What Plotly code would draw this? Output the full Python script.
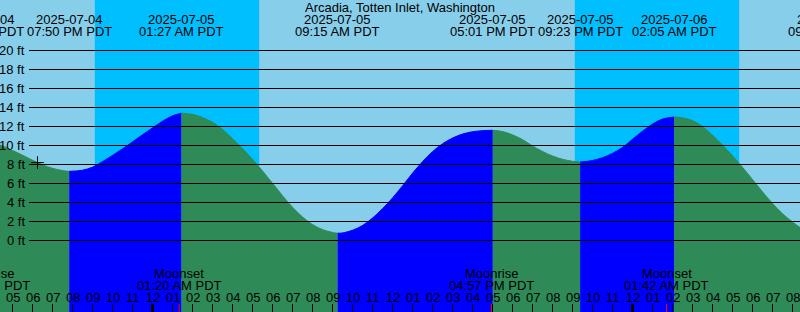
import plotly.graph_objects as go
import pandas as pd

# ---------------- data (times in PDT) ----------------
title_text = "Arcadia, Totten Inlet, Washington"

curve_times = [
    "2025-07-04 16:00", "2025-07-04 16:30", "2025-07-04 17:00", "2025-07-04 17:30",
    "2025-07-04 18:00", "2025-07-04 18:30", "2025-07-04 19:00", "2025-07-04 19:30",
    "2025-07-04 20:30", "2025-07-04 21:00", "2025-07-04 21:30",
    "2025-07-04 22:00", "2025-07-04 22:30", "2025-07-04 23:00", "2025-07-04 23:30",
    "2025-07-05 00:00", "2025-07-05 00:30", "2025-07-05 01:00",
    "2025-07-05 02:00", "2025-07-05 02:30", "2025-07-05 03:00", "2025-07-05 03:30",
    "2025-07-05 04:00", "2025-07-05 04:30", "2025-07-05 05:00", "2025-07-05 05:30",
    "2025-07-05 06:00", "2025-07-05 06:30", "2025-07-05 07:00", "2025-07-05 07:30",
    "2025-07-05 08:00", "2025-07-05 08:30", "2025-07-05 09:00", "2025-07-05 09:30",
    "2025-07-05 10:00", "2025-07-05 10:30", "2025-07-05 11:00", "2025-07-05 11:30",
    "2025-07-05 12:00", "2025-07-05 12:30", "2025-07-05 13:00", "2025-07-05 13:30",
    "2025-07-05 14:00", "2025-07-05 14:30", "2025-07-05 15:00", "2025-07-05 15:30",
    "2025-07-05 16:00", "2025-07-05 16:30", "2025-07-05 17:30", "2025-07-05 18:00",
    "2025-07-05 18:30", "2025-07-05 19:00", "2025-07-05 19:30", "2025-07-05 20:00",
    "2025-07-05 20:30", "2025-07-05 21:00", "2025-07-05 22:00",
    "2025-07-05 22:30", "2025-07-05 23:00", "2025-07-05 23:30", "2025-07-06 00:00",
    "2025-07-06 00:30", "2025-07-06 01:00", "2025-07-06 01:30",
    "2025-07-06 02:30", "2025-07-06 03:00", "2025-07-06 03:30", "2025-07-06 04:00",
    "2025-07-06 04:30", "2025-07-06 05:00", "2025-07-06 05:30", "2025-07-06 06:00",
    "2025-07-06 06:30", "2025-07-06 07:00", "2025-07-06 07:30", "2025-07-06 08:00",
    "2025-07-06 08:30", "2025-07-06 09:00", "2025-07-06 09:30",
]
curve_heights = [
    10.27, 9.96, 9.48, 8.98,
    8.45, 7.97, 7.60, 7.36,
    7.40, 7.72, 8.30,
    8.95, 9.65, 10.38, 11.12,
    11.85, 12.55, 13.12,
    13.28, 12.95, 12.45, 11.70,
    10.72, 9.68, 8.55, 7.32,
    6.02, 4.72, 3.50, 2.48,
    1.68, 1.15, 0.85, 0.80,
    1.08, 1.58, 2.36, 3.35,
    4.48, 5.75, 7.08, 8.30,
    9.35, 10.18, 10.78, 11.20,
    11.45, 11.56, 11.47, 11.12,
    10.62, 9.95, 9.38, 8.90,
    8.55, 8.34, 8.42,
    8.72, 9.17, 9.80, 10.65,
    11.50, 12.25, 12.78,
    12.92, 12.62, 12.00, 11.08,
    10.05, 8.92, 7.70, 6.42,
    5.12, 3.90, 2.82, 1.95,
    1.20, 0.65, 0.32,
]

tide_event_times = [
    "2025-07-04 15:28", "2025-07-04 19:50", "2025-07-05 01:27", "2025-07-05 09:15",
    "2025-07-05 17:01", "2025-07-05 21:23", "2025-07-06 02:05", "2025-07-06 09:53",
]
tide_event_heights = [10.36, 7.28, 13.40, 0.76, 11.60, 8.26, 13.00, 0.20]

sunset_times = ["2025-07-04 21:07", "2025-07-05 21:07"]
sunrise_times = ["2025-07-05 05:20", "2025-07-06 05:20"]

moon_times = ["2025-07-04 15:46", "2025-07-05 01:20", "2025-07-05 16:57", "2025-07-06 01:42"]
moon_kinds = ["Moonrise", "Moonset", "Moonrise", "Moonset"]

now_time = ["2025-07-04 18:15"]
now_height = [8.2]

height_ticks = [0, 2, 4, 6, 8, 10, 12, 14, 16, 18, 20]

x_range = ["2025-07-04 16:22:30", "2025-07-06 08:22:30"]
y_range = [-7.526, 25.316]

# ---------------- styling ----------------
W, H = 800, 312
FONT = "Liberation Sans"
FS = 13
DAY = "#87CEEB"
NIGHT = "#00BFFF"
RISE = "#0000FF"
FALL = "#2E8B57"
BASE_Y = -20

R0, R1 = pd.Timestamp(x_range[0]), pd.Timestamp(x_range[1])


def px_x(t):
    """paper-x of a time on the x axis range (lets edge labels be partly visible)."""
    return (pd.Timestamp(t) - R0) / (R1 - R0)


def py(px_from_top):
    return 1 - px_from_top / H


fig = go.Figure()

# tide curve split into rising / falling segments between extremes
pts = sorted(
    [(pd.Timestamp(t), h) for t, h in zip(curve_times, curve_heights)]
    + [(pd.Timestamp(t), h) for t, h in zip(tide_event_times, tide_event_heights)]
)
ev = [pd.Timestamp(t) for t in tide_event_times]
for a, b in zip(ev[:-1], ev[1:]):
    seg = [(t, h) for t, h in pts if a <= t <= b]
    xs = [t for t, _ in seg]
    ys = [h for _, h in seg]
    color = RISE if ys[-1] > ys[0] else FALL
    fig.add_trace(go.Scatter(x=xs, y=[BASE_Y] * len(xs), mode="lines",
                             line=dict(width=0, color=color), hoverinfo="skip",
                             showlegend=False))
    fig.add_trace(go.Scatter(x=xs, y=ys, mode="lines", fill="tonexty",
                             fillcolor=color,
                             line=dict(width=1, color=color, shape="spline", smoothing=1),
                             hoverinfo="skip", showlegend=False))

# current time marker
fig.add_trace(go.Scatter(x=now_time, y=now_height, mode="markers",
                         marker=dict(symbol="cross-thin", size=9,
                                     line=dict(width=1, color="black")),
                         showlegend=False, hoverinfo="skip"))

shapes = []
# night shading
for s, r in zip(sunset_times, sunrise_times):
    shapes.append(dict(type="rect", xref="x", yref="paper", x0=s, x1=r, y0=0, y1=1,
                       fillcolor=NIGHT, line=dict(width=0), layer="below"))
# height grid lines
for v in height_ticks:
    shapes.append(dict(type="line", xref="paper", yref="y", x0=29 / W, x1=1, y0=v, y1=v,
                       line=dict(color="black", width=1), layer="above"))
# midnight ticks (thick)
for d in pd.date_range(R0.ceil("D"), R1, freq="D"):
    shapes.append(dict(type="line", xref="x", yref="paper", x0=d, x1=d,
                       y0=0, y1=8 / H, line=dict(color="black", width=3), layer="above"))
# moon event ticks
for t in moon_times:
    if R0 <= pd.Timestamp(t) <= R1:
        shapes.append(dict(type="line", xref="x", yref="paper", x0=t, x1=t,
                           y0=0, y1=8 / H, line=dict(color="red", width=1), layer="above"))

ann = []
ann.append(dict(text=title_text, xref="paper", yref="paper", x=0.5, y=py(7.5),
                showarrow=False, xanchor="center", yanchor="middle"))
for t in tide_event_times:
    ts = pd.Timestamp(t)
    ann.append(dict(text=ts.strftime("%Y-%m-%d"), xref="paper", yref="paper", x=px_x(ts),
                    y=py(19.5), showarrow=False, xanchor="center", yanchor="middle"))
    ann.append(dict(text=ts.strftime("%I:%M %p PDT"), xref="paper", yref="paper", x=px_x(ts),
                    y=py(31.3), showarrow=False, xanchor="center", yanchor="middle"))
for t, k in zip(moon_times, moon_kinds):
    ts = pd.Timestamp(t)
    ann.append(dict(text=k, xref="paper", yref="paper", x=px_x(ts), y=py(273.8),
                    showarrow=False, xanchor="center", yanchor="middle"))
    ann.append(dict(text=ts.strftime("%I:%M %p PDT"), xref="paper", yref="paper", x=px_x(ts),
                    y=py(285.3), showarrow=False, xanchor="center", yanchor="middle"))
for v in height_ticks:
    ann.append(dict(text=f"{v} ft", xref="paper", yref="y", x=26.5 / W, y=v,
                    showarrow=False, xanchor="right", yanchor="middle"))
# hour labels
for t in pd.date_range(R0.ceil("h"), R1, freq="h"):
    ann.append(dict(text=t.strftime("%I"), xref="x", yref="paper", x=t, y=py(297.2),
                    showarrow=False, xanchor="center", yanchor="middle"))

fig.update_layout(
    width=W, height=H,
    margin=dict(l=0, r=0, t=0, b=0, pad=0, autoexpand=False),
    paper_bgcolor=DAY, plot_bgcolor=DAY,
    font=dict(family=FONT, size=FS, color="black"),
    shapes=shapes, annotations=ann, showlegend=False,
    xaxis=dict(type="date", range=x_range, showgrid=False, zeroline=False,
               showline=False, ticks="inside", ticklen=8, tickcolor="black", tickwidth=1,
               tickmode="linear", tick0="2025-07-04 17:00", dtick=3600000,
               showticklabels=False, fixedrange=True),
    yaxis=dict(range=y_range, showgrid=False, zeroline=False, showline=False,
               showticklabels=False, ticks="", fixedrange=True),
)

fig.write_html("out.html")
